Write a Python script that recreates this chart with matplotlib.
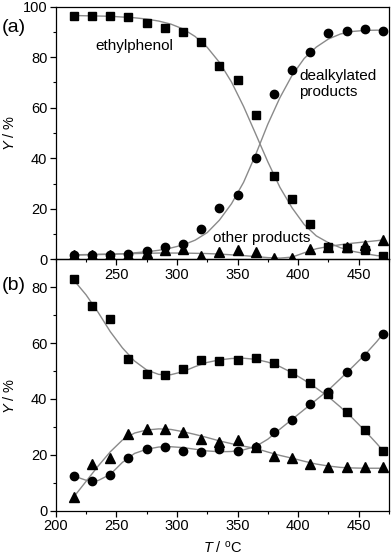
import matplotlib
matplotlib.use("Agg")
import matplotlib.pyplot as plt
from matplotlib.ticker import MultipleLocator

plt.rcParams['font.family'] = ['Liberation Sans', 'DejaVu Sans']
plt.rcParams['mathtext.fontset'] = 'custom'
plt.rcParams['mathtext.it'] = 'Liberation Sans:italic'
plt.rcParams['mathtext.rm'] = 'Liberation Sans'

# measured temperatures (deg C)
T = [215, 230, 245, 260, 275, 290, 305, 320, 335, 350, 365, 380, 395, 410, 425, 440, 455, 470]

# panel (a) measured yields (%)
a_ethylphenol = [96.3, 96.2, 96.2, 95.9, 93.6, 91.5, 89.9, 86.1, 76.4, 70.9, 57.0, 32.8, 23.8, 14.0, 4.9, 4.5, 3.8, 1.3]
a_dealkylated = [1.8, 1.8, 1.7, 2.2, 3.3, 4.9, 6.2, 11.9, 20.3, 25.6, 40.1, 65.3, 74.8, 82.1, 89.7, 90.5, 91.0, 90.5]
a_other = [1.7, 1.7, 1.7, 1.8, 2.6, 3.6, 4.0, 1.3, 3.0, 3.6, 2.9, 0.7, 0.7, 4.0, 4.9, 4.9, 5.6, 7.7]

# panel (b) measured yields (%)
b_squares = [82.9, 73.3, 68.8, 54.4, 49.0, 48.6, 50.9, 54.0, 53.7, 54.0, 54.8, 52.8, 49.2, 45.6, 41.8, 35.2, 28.9, 21.5]
b_circles = [12.4, 10.6, 12.7, 18.8, 22.1, 22.7, 21.4, 21.1, 22.1, 21.4, 22.9, 28.1, 32.5, 38.1, 42.6, 49.6, 55.5, 63.2]
b_triangles = [5.0, 16.6, 18.8, 27.4, 29.3, 29.1, 28.3, 25.6, 24.6, 25.3, 22.9, 19.6, 18.8, 16.7, 15.8, 15.5, 15.8, 15.8]

# fitted curves
T_fit = [215, 225, 235, 245, 255, 265, 275, 285, 295, 305, 315, 325, 335, 345,
         355, 365, 375, 385, 395, 405, 415, 425, 435, 445, 455, 465, 470]
a_eth_fit = [96.5, 96.4, 96.3, 96.2, 95.9, 95.6, 95.1, 94.3, 93.1, 91.2, 88.2, 83.9, 78.0, 70.2,
             60.5, 49.6, 38.6, 28.5, 20.4, 13.8, 9.3, 6.6, 4.6, 3.2, 2.3, 1.5, 1.3]
a_dealk_fit = [1.7, 1.8, 1.9, 2.0, 2.2, 2.6, 3.0, 3.6, 4.5, 5.7, 7.6, 10.6, 15.5, 22.0,
               30.5, 41.5, 53.5, 64.0, 72.8, 79.5, 84.0, 87.2, 89.2, 90.2, 90.6, 90.7, 90.7]
a_other_fit = [1.8, 1.9, 2.0, 2.1, 2.2, 2.3, 2.4, 2.5, 2.5, 2.5, 2.4, 2.3, 2.1, 1.8,
               1.5, 1.1, 0.7, 0.5, 0.9, 2.6, 4.2, 5.1, 5.8, 6.4, 6.9, 7.4, 7.7]
b_sq_fit = [82.5, 77.3, 71.0, 64.1, 58.3, 53.6, 50.4, 48.8, 48.7, 49.8, 51.6, 53.1, 54.0, 54.5,
            54.6, 54.2, 53.2, 51.6, 49.4, 46.8, 43.9, 40.8, 37.1, 33.1, 28.7, 24.0, 21.5]
b_ci_fit = [12.4, 10.9, 10.8, 13.0, 17.3, 20.5, 22.0, 22.8, 22.9, 22.6, 22.0, 21.4, 21.1, 21.2,
            21.8, 23.0, 25.6, 29.2, 32.7, 36.2, 39.7, 43.2, 47.3, 51.5, 55.8, 60.6, 63.3]
b_tr_fit = [5.0, 10.5, 16.0, 21.1, 25.3, 27.8, 28.9, 29.3, 29.1, 28.3, 27.3, 26.2, 25.0, 24.0,
            23.1, 22.3, 21.0, 19.8, 18.8, 17.7, 16.7, 16.0, 15.5, 15.3, 15.2, 15.2, 15.2]

fig = plt.figure(figsize=(3.92, 5.56), dpi=100)
ax_b = fig.add_axes([0.1423, 0.0815, 0.85, 0.452])
ax_a = fig.add_axes([0.1423, 0.5335, 0.85, 0.4545])

line_kw = dict(color='#8a8a8a', lw=1.0, zorder=1)
mk = dict(color='black', ls='none', zorder=3)

ax_a.plot(T_fit, a_eth_fit, **line_kw)
ax_a.plot(T_fit, a_dealk_fit, **line_kw)
ax_a.plot(T_fit, a_other_fit, **line_kw)
ax_a.plot(T, a_ethylphenol, marker='s', ms=5.5, **mk)
ax_a.plot(T, a_other, marker='^', ms=6.5, **mk)
ax_a.plot(T, a_dealkylated, marker='o', ms=6, **mk)

ax_b.plot(T_fit, b_sq_fit, **line_kw)
ax_b.plot(T_fit, b_ci_fit, **line_kw)
ax_b.plot(T_fit, b_tr_fit, **line_kw)
ax_b.plot(T, b_squares, marker='s', ms=5.5, **mk)
ax_b.plot(T, b_triangles, marker='^', ms=6.5, **mk)
ax_b.plot(T, b_circles, marker='o', ms=6, **mk)

for ax in (ax_a, ax_b):
    ax.set_facecolor('none')
    ax.set_xlim(200, 475)
    ax.xaxis.set_major_locator(MultipleLocator(50))
    ax.xaxis.set_minor_locator(MultipleLocator(25))
    ax.yaxis.set_major_locator(MultipleLocator(20))
    ax.yaxis.set_minor_locator(MultipleLocator(10))
    ax.tick_params(which='major', direction='out', length=4, width=0.9, labelsize=10.5, pad=2)
    ax.tick_params(which='minor', direction='out', length=2.5, width=0.8)
    for s in ax.spines.values():
        s.set_linewidth(0.9)

ax_a.set_ylim(0, 100)
ax_b.set_ylim(0, 90)
ax_a.set_xticks([250, 300, 350, 400, 450])

ax_a.set_ylabel(r'$\mathit{Y}$ / %', fontsize=10.5)
ax_b.set_ylabel(r'$\mathit{Y}$ / %', fontsize=10.5)
ax_a.yaxis.set_label_coords(-0.115, 0.5)
ax_b.yaxis.set_label_coords(-0.115, 0.457)
ax_b.set_xlabel(r'$\mathit{T}$ / $^{\mathrm{o}}$C', fontsize=10.5, labelpad=5)

ax_a.text(265, 84.4, 'ethylphenol', fontsize=11, ha='center', va='center')
ax_a.text(401, 69.5, 'dealkylated\nproducts', fontsize=11, ha='left', va='center', linespacing=1.15)
ax_a.text(370, 8.3, 'other products', fontsize=11, ha='center', va='center')

fig.text(0.005, 0.95, '(a)', fontsize=14, ha='left', va='center')
fig.text(0.005, 0.487, '(b)', fontsize=14, ha='left', va='center')

fig.savefig('out.png', dpi=100)
